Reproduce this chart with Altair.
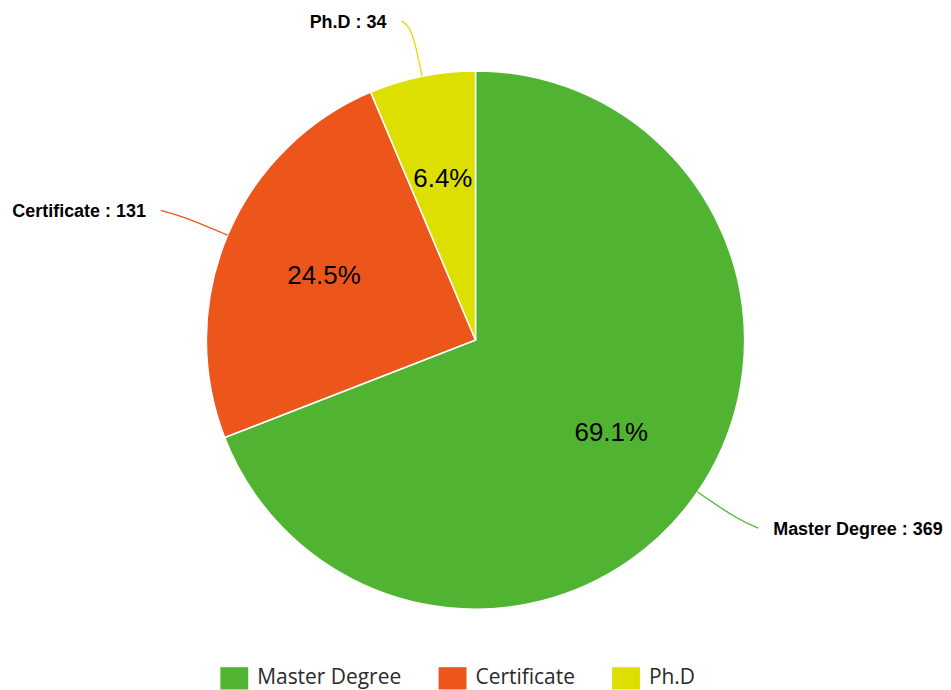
import altair as alt
import pandas as pd

categories = ["Master Degree", "Certificate", "Ph.D"]
values = [369, 131, 34]
colors = ["#50B432", "#ED561B", "#DDDF00"]

df = pd.DataFrame({"category": categories, "value": values})

W, H = 938, 664
R_PIE = 270
R_BEND = 320
R_LABEL = 334
R_INNER = 165
TOP_LIMIT = H / 2 - 12  # keep the topmost label inside the view

xs = alt.Scale(domain=[-W / 2, W / 2], nice=False, zero=False)
ys = alt.Scale(domain=[-H / 2, H / 2], nice=False, zero=False)

base = (
    alt.Chart(df)
    .transform_window(idx="row_number()")
    .transform_joinaggregate(total="sum(value)")
    .transform_window(cum="sum(value)", sort=[alt.SortField("idx")], frame=[None, 0])
    .transform_calculate(
        mid="2*PI*(datum.cum - datum.value/2)/datum.total",
        pct="format(100*datum.value/datum.total, '.1f') + '%'",
        lab="datum.category + ' : ' + datum.value",
    )
    .transform_calculate(
        side="sin(datum.mid) > 0 ? 1 : -1",
        ax=f"{R_LABEL}*sin(datum.mid)",
        ay=f"min({R_LABEL}*cos(datum.mid), {TOP_LIMIT})",
    )
)

arcs = base.mark_arc(outerRadius=R_PIE, stroke="white", strokeWidth=1.5).encode(
    theta=alt.Theta("value:Q", stack=True),
    color=alt.Color(
        "category:N",
        scale=alt.Scale(domain=categories, range=colors),
        sort=categories,
        legend=alt.Legend(
            title=None,
            orient="none",
            legendX=213,
            legendY=657,
            direction="horizontal",
            symbolType="M-1,-0.8H1V0.8H-1Z",
            symbolSize=784,
            symbolStrokeWidth=0,
            labelFont="Open Sans",
            labelFontSize=21,
            labelColor="#2a2a2a",
            labelOffset=9,
            columnPadding=37,
            padding=0,
            labelLimit=300,
        ),
    ),
    order=alt.Order("idx:Q", sort="ascending"),
)

connectors = (
    base.transform_calculate(steps="[0,1,2]")
    .transform_flatten(["steps"])
    .transform_calculate(
        px=f"datum.steps==0 ? {R_PIE}*sin(datum.mid) : datum.steps==1 ? {R_BEND}*sin(datum.mid) : datum.ax + 8*datum.side",
        py=f"datum.steps==0 ? {R_PIE}*cos(datum.mid) : datum.steps==1 ? min({R_BEND}*cos(datum.mid), {TOP_LIMIT} + 8) : datum.ay",
    )
    .mark_line(interpolate="basis", strokeWidth=1.3)
    .encode(
        x=alt.X("px:Q", scale=xs, axis=None),
        y=alt.Y("py:Q", scale=ys, axis=None),
        detail="category:N",
        order="steps:Q",
        stroke=alt.Stroke("category:N", scale=alt.Scale(domain=categories, range=colors), legend=None),
    )
)

label_style = dict(baseline="middle", font="Liberation Sans", fontSize=18,
                   fontWeight="bold", color="#000000", dy=2)

right_labels = base.transform_filter("datum.side > 0").mark_text(
    align="left", dx=23, **label_style
).encode(
    x=alt.X("ax:Q", scale=xs, axis=None),
    y=alt.Y("ay:Q", scale=ys, axis=None),
    text="lab:N",
)

left_labels = base.transform_filter("datum.side < 0").mark_text(
    align="right", dx=-23, **label_style
).encode(
    x=alt.X("ax:Q", scale=xs, axis=None),
    y=alt.Y("ay:Q", scale=ys, axis=None),
    text="lab:N",
)

inner_labels = base.transform_calculate(
    ix=f"{R_INNER}*sin(datum.mid)", iy=f"{R_INNER}*cos(datum.mid)"
).mark_text(
    align="center", baseline="middle", font="Liberation Sans",
    fontSize=26, color="#000000",
).encode(
    x=alt.X("ix:Q", scale=xs, axis=None),
    y=alt.Y("iy:Q", scale=ys, axis=None),
    text="pct:N",
)

chart = (
    alt.layer(arcs, connectors, right_labels, left_labels, inner_labels)
    .properties(width=W, height=H, padding=0)
    .configure_view(strokeWidth=0)
)

chart.save("out.html", embed_options={"renderer": "svg", "actions": False})
